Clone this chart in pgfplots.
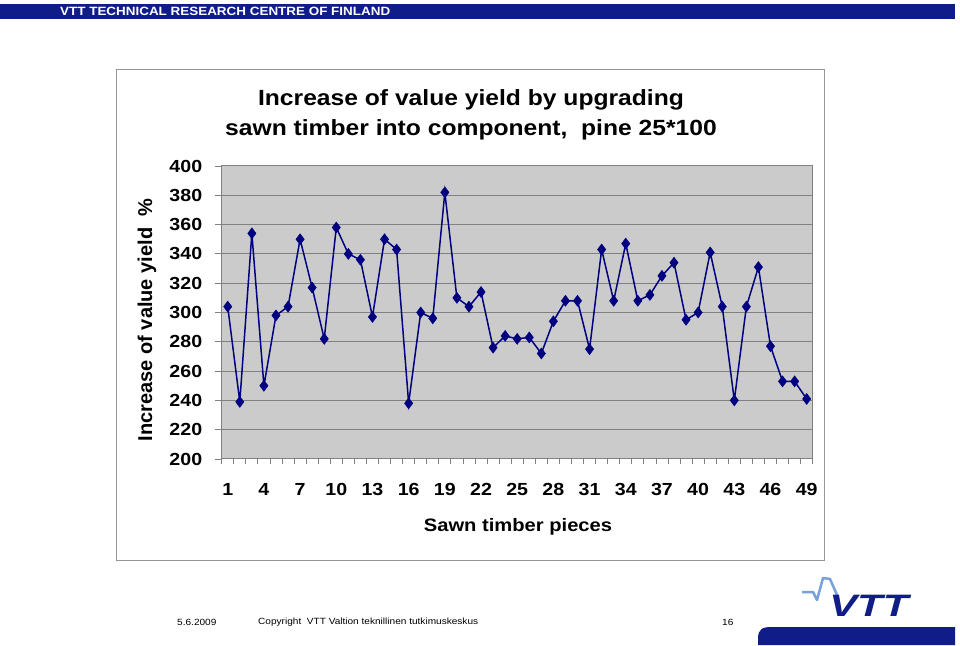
\documentclass[border=0pt]{standalone}
\usepackage{pgfplots}
\pgfplotsset{compat=1.18}
\usepackage{fontspec}
\setmainfont{Liberation Sans}[FakeStretch=1.12]
\newfontfamily\plainfont{Liberation Sans}
\definecolor{navyline}{RGB}{0,0,128}
\definecolor{plotbg}{RGB}{203,203,203}
\definecolor{gridgray}{RGB}{128,128,128}
\definecolor{boxgray}{RGB}{150,150,150}
\definecolor{vttblue}{RGB}{16,28,136}
\definecolor{vttlight}{RGB}{120,160,220}
\begin{document}
\begin{tikzpicture}[x=1pt,y=1pt]
\path (0,0) rectangle (960,645);
% header band
\fill[vttblue] (0,626) rectangle (955,641);
\node[anchor=west,text=white,inner sep=0pt] at (60,633.5) {\fontsize{12}{14}\selectfont\bfseries VTT TECHNICAL RESEARCH CENTRE OF FINLAND};
% chart box
\draw[boxgray,line width=1pt] (116.7,85) rectangle (824,575.7);
\begin{axis}[
  at={(221.7pt,186pt)}, anchor=south west,
  scale only axis, width=591pt, height=293pt,
  xmin=0.5, xmax=49.5, ymin=200, ymax=400,
  ytick={200,220,...,400},
  xtick={1,4,...,49},
  minor xtick={0.5,1.5,...,49.5},
  tick align=outside, tick pos=left,
  major tick length=7pt, minor tick length=5pt,
  major x tick style={draw=none},
  tick style={gridgray, line width=0.8pt},
  axis background/.style={fill=plotbg},
  axis line style={gridgray, line width=1pt},
  ymajorgrids, major grid style={gridgray, line width=1pt},
  tick label style={font=\fontsize{17.5}{20}\selectfont\bfseries},
  /pgf/number format/assume math mode=true,
  yticklabel style={xshift=-9pt},
  xticklabel style={yshift=-14pt},
]
\addplot[navyline, line width=1.5pt, mark=diamond*, mark size=5.5pt, mark options={fill=navyline, draw=navyline, line width=0.5pt}] coordinates {
(1,304) (2,239) (3,354) (4,250) (5,298) (6,304) (7,350) (8,317) (9,282) (10,358)
(11,340) (12,336) (13,297) (14,350) (15,343) (16,238) (17,300) (18,296) (19,382) (20,310)
(21,304) (22,314) (23,276) (24,284) (25,282) (26,283) (27,272) (28,294) (29,308) (30,308)
(31,275) (32,343) (33,308) (34,347) (35,308) (36,312) (37,325) (38,334) (39,295) (40,300)
(41,341) (42,304) (43,240) (44,304) (45,331) (46,277) (47,253) (48,253) (49,241)
};
\end{axis}
% title
\node[inner sep=0pt] at (471,545) {\fontsize{22}{26}\selectfont\bfseries Increase of value yield by upgrading};
\node[inner sep=0pt] at (471,515) {\fontsize{22}{26}\selectfont\bfseries sawn timber into component,\ \ pine 25*100};
% axis labels
\node[rotate=90,inner sep=0pt] at (147,325) {\plainfont\fontsize{20}{24}\selectfont\bfseries Increase of value yield\ \ \%};
\node[inner sep=0pt] at (518,118) {\fontsize{18}{22}\selectfont\bfseries Sawn timber pieces};
% footer
\node[anchor=west,inner sep=0pt] at (177,23) {\fontsize{9}{11}\selectfont 5.6.2009};
\node[anchor=west,inner sep=0pt] at (258,23) {\fontsize{9}{11}\selectfont Copyright\ \ VTT Valtion teknillinen tutkimuskeskus};
\node[anchor=west,inner sep=0pt] at (722,23) {\fontsize{9}{11}\selectfont 16};
% logo
\fill[vttblue] (758,0) -- (758,6) .. controls (758,16) and (762,18) .. (772,18) -- (955,18) -- (955,0) -- cycle;
\draw[vttlight,line width=2.5pt,line join=round] (802,53) -- (813,53) -- (817,45) -- (823,67) -- (830,66) -- (837,50);
\node[anchor=west,inner sep=0pt,text=vttblue,xscale=1.35] at (829,39.5) {\plainfont\fontsize{31}{34}\selectfont\bfseries\itshape VTT};
\end{tikzpicture}
\end{document}
